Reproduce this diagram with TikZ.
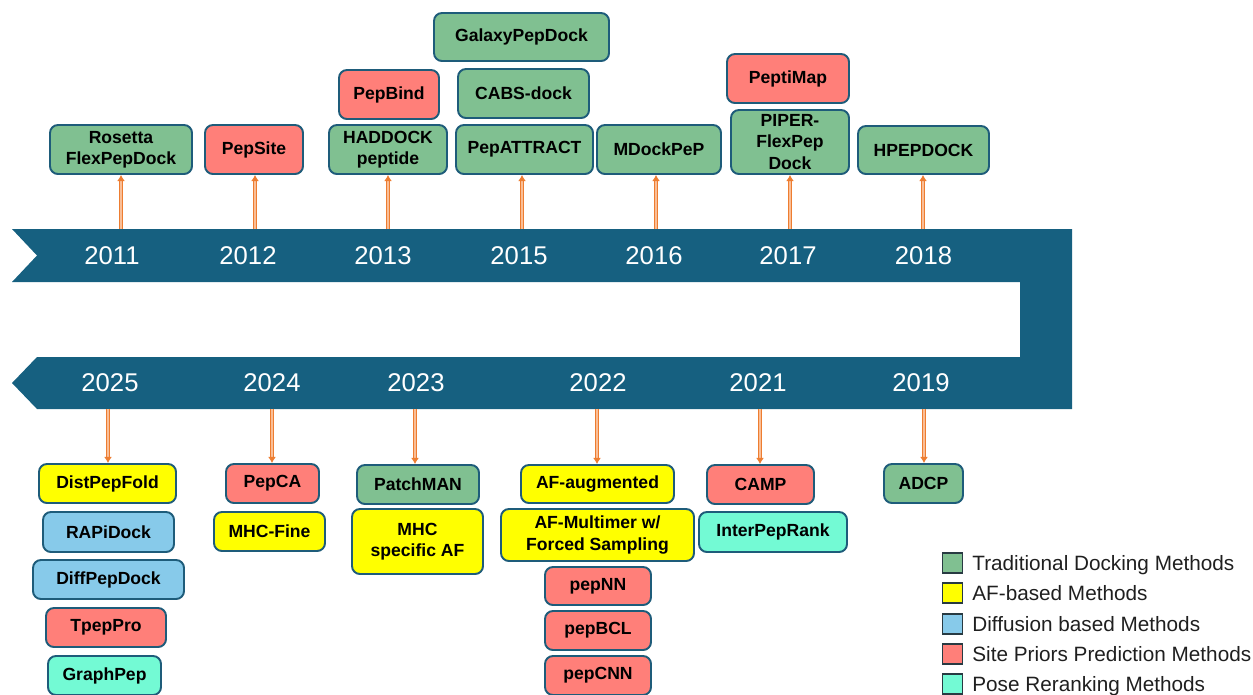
\documentclass[tikz,border=0pt]{standalone}
\usepackage{fontspec}
\setmainfont{Liberation Sans}
\usetikzlibrary{arrows.meta}
\definecolor{bandc}{RGB}{22,96,128}
\definecolor{edgec}{RGB}{30,92,122}
\definecolor{tradc}{RGB}{128,192,145}
\definecolor{afc}{RGB}{255,255,0}
\definecolor{diffc}{RGB}{135,202,234}
\definecolor{sitec}{RGB}{255,127,121}
\definecolor{posec}{RGB}{115,250,212}
\definecolor{arrc}{RGB}{237,125,49}
\definecolor{arrin}{RGB}{250,190,150}
\definecolor{legedge}{RGB}{40,58,66}
\begin{document}
\begin{tikzpicture}[x=0.02cm,y=-0.02cm,
  mbox/.style n args={3}{draw=edgec, line width=1.1pt, rounded corners=4.5pt, fill=#1,
    minimum width={#2*0.02cm}, minimum height={#3*0.02cm}, inner sep=0pt, align=center,
    font=\fontsize{10pt}{12.2pt}\selectfont\bfseries, text=black},
  yearlbl/.style={text=white, font=\fontsize{14.6pt}{16pt}\selectfont, inner sep=0pt},
  conn/.style={draw=arrc, line width=0.6pt, double=arrin, double distance=1.0pt,
    -{Latex[length=3.5pt,width=4.5pt]}},
  legsq/.style={draw=legedge, line width=0.9pt, minimum size={20*0.02cm}, inner sep=0pt},
  legtxt/.style={anchor=base west, inner sep=0pt, font=\fontsize{11.8pt}{13pt}\selectfont, text=black!88}
]
\path[use as bounding box] (0,0) rectangle (1253,694);

% timeline band
\fill[bandc] (12,229) -- (1072,229) -- (1072,409) -- (37,409) -- (12,383) -- (37,357)
  -- (1020,357) -- (1020,282) -- (12,282) -- (37,255.5) -- cycle;

% years
\node[yearlbl] (y2011) at (112,256) {2011};
\node[yearlbl] (y2012) at (248,256) {2012};
\node[yearlbl] (y2013) at (383,256) {2013};
\node[yearlbl] (y2015) at (519,256) {2015};
\node[yearlbl] (y2016) at (654,256) {2016};
\node[yearlbl] (y2017) at (788,256) {2017};
\node[yearlbl] (y2018) at (923.5,256) {2018};
\node[yearlbl] (y2025) at (110,383) {2025};
\node[yearlbl] (y2024) at (272,383) {2024};
\node[yearlbl] (y2023) at (416,383) {2023};
\node[yearlbl] (y2022) at (598,383) {2022};
\node[yearlbl] (y2021) at (758,383) {2021};
\node[yearlbl] (y2019) at (921,383) {2019};

% anchor points on band
\coordinate (a2011) at (121,229);
\coordinate (a2012) at (255,229);
\coordinate (a2013) at (388,229);
\coordinate (a2015) at (522,229);
\coordinate (a2016) at (656,229);
\coordinate (a2017) at (790,229);
\coordinate (a2018) at (923,229);
\coordinate (a2025) at (108,409);
\coordinate (a2024) at (272,409);
\coordinate (a2023) at (415,409);
\coordinate (a2022) at (597,409);
\coordinate (a2021) at (760,409);
\coordinate (a2019) at (924,409);

% top boxes
\node[mbox={tradc}{142}{49}] (rosetta) at (121,149.5) {Rosetta\\FlexPepDock};
\node[mbox={sitec}{98}{49}] (pepsite) at (254,149.5) {PepSite};
\node[mbox={tradc}{118}{49}] (haddock) at (388,149.5) {HADDOCK\\peptide};
\node[mbox={sitec}{100}{49}] (pepbind) at (389,94.5) {PepBind};
\node[mbox={tradc}{137}{49}] (pepattract) at (524.5,149.5) {PepATTRACT};
\node[mbox={tradc}{131}{49}] (cabs) at (523.5,93.5) {CABS-dock};
\node[mbox={tradc}{175}{48}] (galaxy) at (521.5,37) {GalaxyPepDock};
\node[mbox={tradc}{124}{49}] (mdockpep) at (659,149.5) {MDockPeP};
\node[mbox={tradc}{118}{64}] (piper) at (790,142) {PIPER-\\FlexPep\\Dock};
\node[mbox={sitec}{122}{49}] (peptimap) at (788,78.5) {PeptiMap};
\node[mbox={tradc}{131}{48}] (hpepdock) at (923.5,150) {HPEPDOCK};

% bottom boxes
\node[mbox={afc}{137}{39}] (distpepfold) at (107.5,483.5) {DistPepFold};
\node[mbox={diffc}{131}{40}] (rapidock) at (108.5,532) {RAPiDock};
\node[mbox={diffc}{151}{39}] (diffpepdock) at (108.5,579.5) {DiffPepDock};
\node[mbox={sitec}{120}{39}] (tpeppro) at (106,627.5) {TpepPro};
\node[mbox={posec}{113}{39}] (graphpep) at (104.5,675.5) {GraphPep};
\node[mbox={sitec}{93}{39}] (pepca) at (272.5,483.5) {PepCA};
\node[mbox={afc}{111}{39}] (mhcfine) at (269.5,531.5) {MHC-Fine};
\node[mbox={tradc}{122}{39}] (patchman) at (418,484.5) {PatchMAN};
\node[mbox={afc}{131}{65}] (mhcaf) at (417.5,541.5) {MHC\\specific AF};
\node[mbox={afc}{153}{38}] (afaug) at (597.5,484) {AF-augmented};
\node[mbox={afc}{193}{52}] (afmult) at (597.5,535) {AF-Multimer w/\\Forced Sampling};
\node[mbox={sitec}{106}{38}] (pepnn) at (598,586) {pepNN};
\node[mbox={sitec}{106}{39}] (pepbcl) at (598,630.5) {pepBCL};
\node[mbox={sitec}{106}{39}] (pepcnn) at (598,675.5) {pepCNN};
\node[mbox={sitec}{107}{39}] (camp) at (760.5,484.5) {CAMP};
\node[mbox={posec}{148}{40}] (interpep) at (773,532) {InterPepRank};
\node[mbox={tradc}{79}{39}] (adcp) at (923.5,483.5) {ADCP};

% connectors
\draw[conn] (a2011) -- (a2011 |- rosetta.south);
\draw[conn] (a2012) -- (a2012 |- pepsite.south);
\draw[conn] (a2013) -- (a2013 |- haddock.south);
\draw[conn] (a2015) -- (a2015 |- pepattract.south);
\draw[conn] (a2016) -- (a2016 |- mdockpep.south);
\draw[conn] (a2017) -- (a2017 |- piper.south);
\draw[conn] (a2018) -- (a2018 |- hpepdock.south);
\draw[conn] (a2025) -- (a2025 |- distpepfold.north);
\draw[conn] (a2024) -- (a2024 |- pepca.north);
\draw[conn] (a2023) -- (a2023 |- patchman.north);
\draw[conn] (a2022) -- (a2022 |- afaug.north);
\draw[conn] (a2021) -- (a2021 |- camp.north);
\draw[conn] (a2019) -- (a2019 |- adcp.north);

% legend
\node[legsq, fill=tradc] (lg1) at (952.5,563) {};
\node[legsq, fill=afc] (lg2) at (952.5,593) {};
\node[legsq, fill=diffc] (lg3) at (952.5,624) {};
\node[legsq, fill=sitec] (lg4) at (952.5,654) {};
\node[legsq, fill=posec] (lg5) at (952.5,684) {};
\node[legtxt] (lt1) at (972,570) {Traditional Docking Methods};
\node[legtxt] (lt2) at (972,600) {AF-based Methods};
\node[legtxt] (lt3) at (972,631) {Diffusion based Methods};
\node[legtxt] (lt4) at (972,661) {Site Priors Prediction Methods};
\node[legtxt] (lt5) at (972,691) {Pose Reranking Methods};
\end{tikzpicture}
\end{document}
